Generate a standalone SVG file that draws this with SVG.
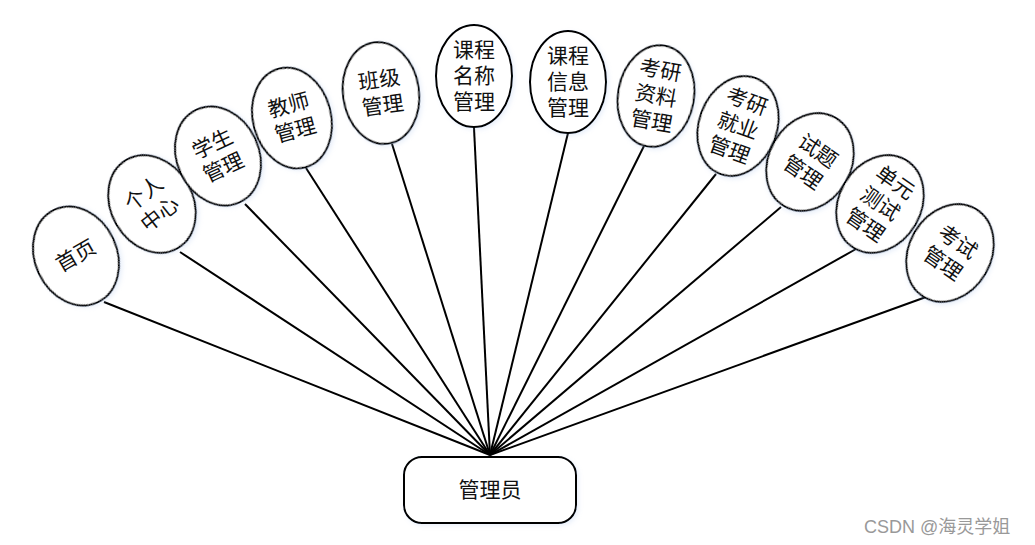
<svg xmlns="http://www.w3.org/2000/svg" width="1035" height="545" viewBox="0 0 1035 545">
<style>
.n ellipse{fill:#fff;stroke:#000;stroke-width:2}
.n text,.hub text{font-family:"Liberation Serif","Noto Sans CJK SC",serif;font-size:21px;fill:#111;text-anchor:middle;dominant-baseline:central}
.c line{stroke:#000;stroke-width:2}
.hub rect{fill:#fff;stroke:#000;stroke-width:2}
.wm{font-family:"Liberation Sans","Noto Sans CJK SC",sans-serif;font-size:18px;fill:#999}
</style>
<defs>
<filter id="sh" x="-20%" y="-20%" width="140%" height="140%">
<feDropShadow dx="2" dy="2" stdDeviation="2" flood-color="#9ab8e8" flood-opacity="0.2"/>
</filter>
</defs>
<rect width="1035" height="545" fill="#fff"/>
<g class="c">
<line x1="490" y1="455" x2="104" y2="302"/>
<line x1="490" y1="455" x2="180" y2="252"/>
<line x1="490" y1="455" x2="245" y2="204"/>
<line x1="490" y1="455" x2="306" y2="168"/>
<line x1="490" y1="455" x2="392" y2="144"/>
<line x1="490" y1="455" x2="474" y2="128"/>
<line x1="490" y1="455" x2="568" y2="133"/>
<line x1="490" y1="455" x2="644" y2="146"/>
<line x1="490" y1="455" x2="716" y2="174"/>
<line x1="490" y1="455" x2="781" y2="207"/>
<line x1="490" y1="455" x2="856" y2="249"/>
<line x1="490" y1="455" x2="926" y2="297"/>
</g>
<g id="n1" class="n" transform="translate(76,256) rotate(-25)"><ellipse rx="41" ry="51" filter="url(#sh)"/><text transform="rotate(-5)" x="0" y="0">首页</text></g>
<g id="n2" class="n" transform="translate(152,204) rotate(-30)"><ellipse rx="41" ry="51" filter="url(#sh)"/><text transform="rotate(-8)"><tspan x="0" y="-13">个人</tspan><tspan x="0" y="13">中心</tspan></text></g>
<g id="n3" class="n" transform="translate(218,156) rotate(-25)"><ellipse rx="41" ry="51" filter="url(#sh)"/><text><tspan x="0" y="-13">学生</tspan><tspan x="0" y="13">管理</tspan></text></g>
<g id="n4" class="n" transform="translate(292,118) rotate(-15)"><ellipse rx="39" ry="51" filter="url(#sh)"/><text><tspan x="0" y="-13">教师</tspan><tspan x="0" y="13">管理</tspan></text></g>
<g id="n5" class="n" transform="translate(381,93) rotate(-8)"><ellipse rx="38" ry="51" filter="url(#sh)"/><text><tspan x="0" y="-13">班级</tspan><tspan x="0" y="13">管理</tspan></text></g>
<g id="n6" class="n" transform="translate(474,76)"><ellipse rx="38" ry="51" filter="url(#sh)"/><text><tspan x="0" y="-26">课程</tspan><tspan x="0" y="0">名称</tspan><tspan x="0" y="26">管理</tspan></text></g>
<g id="n7" class="n" transform="translate(568,82)"><ellipse rx="38" ry="51" filter="url(#sh)"/><text><tspan x="0" y="-26">课程</tspan><tspan x="0" y="0">信息</tspan><tspan x="0" y="26">管理</tspan></text></g>
<g id="n8" class="n" transform="translate(656,96) rotate(10)"><ellipse rx="38" ry="51" filter="url(#sh)"/><text><tspan x="0" y="-26">考研</tspan><tspan x="0" y="0">资料</tspan><tspan x="0" y="26">管理</tspan></text></g>
<g id="n9" class="n" transform="translate(738,126) rotate(20)"><ellipse rx="39" ry="51" filter="url(#sh)"/><text><tspan x="0" y="-26">考研</tspan><tspan x="0" y="0">就业</tspan><tspan x="0" y="26">管理</tspan></text></g>
<g id="n10" class="n" transform="translate(810,162) rotate(30)"><ellipse rx="41" ry="51" filter="url(#sh)"/><text transform="rotate(5)"><tspan x="0" y="-13">试题</tspan><tspan x="0" y="13">管理</tspan></text></g>
<g id="n11" class="n" transform="translate(880,204) rotate(30)"><ellipse rx="41" ry="51" filter="url(#sh)"/><text transform="rotate(5)"><tspan x="0" y="-26">单元</tspan><tspan x="0" y="0">测试</tspan><tspan x="0" y="26">管理</tspan></text></g>
<g id="n12" class="n" transform="translate(950,253) rotate(30)"><ellipse rx="41" ry="51" filter="url(#sh)"/><text transform="rotate(5)"><tspan x="0" y="-13">考试</tspan><tspan x="0" y="13">管理</tspan></text></g>
<g id="hub" class="hub"><rect x="404" y="457" width="172" height="66" rx="18" filter="url(#sh)"/><text x="490" y="490">管理员</text></g>
<text class="wm" x="864" y="533">CSDN @海灵学姐</text>
</svg>
